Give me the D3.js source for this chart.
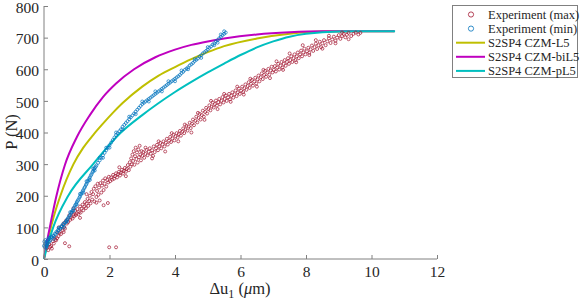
<!DOCTYPE html>
<html><head><meta charset="utf-8">
<script src="https://cdn.jsdelivr.net/npm/d3@7"></script>
<style>body{margin:0;background:#fff}svg{display:block}text{font-family:"Liberation Serif","Times New Roman",Times,"DejaVu Serif",serif !important;fill:#262626}</style>
</head><body><svg id="c" width="581" height="304"></svg>
<script>
const xTicks=[0,2,4,6,8,10,12];
const yTicks=[0,100,200,300,400,500,600,700,800];
const legendLabels=["Experiment (max)","Experiment (min)","S2SP4 CZM-L5","S2SP4 CZM-biL5","S2SP4 CZM-pL5"];
const expMax=[[0.1,36],[0.13,28],[0.16,47],[0.19,38],[0.22,41],[0.24,33],[0.27,56],[0.3,49],[0.32,68],[0.35,61],[0.37,59],[0.4,66],[0.42,84],[0.44,72],[0.47,82],[0.5,95],[0.52,79],[0.55,104],[0.57,90],[0.6,113],[0.62,101],[0.64,96],[0.67,121],[0.7,112],[0.72,125],[0.74,117],[0.77,138],[0.8,124],[0.82,131],[0.85,146],[0.87,128],[0.9,140],[0.92,135],[0.95,152],[0.97,139],[1.0,144],
[1.02,158],[1.05,141],[1.08,150],[1.1,166],[1.12,147],[1.15,159],[1.18,172],[1.2,154],[1.23,166],[1.25,180],[1.28,161],[1.3,175],[1.33,190],[1.35,168],[1.38,183],[1.4,200],[1.42,176],[1.45,212],[1.47,188],[1.5,205],[1.52,222],[1.54,182],[1.57,230],[1.6,196],[1.62,215],[1.64,238],[1.66,203],[1.68,226],[1.7,185],[1.72,240],[1.75,210],[1.77,232],[1.8,248],[1.82,218],[1.85,238],[1.87,255],[1.9,229],[1.93,250],[1.96,242],[1.98,260],
[1.95,177],[1.82,170],[0.64,50],[0.77,40],[1.99,37],[2.2,37],[3.33,326],
[2.02,246],[2.05,258],[2.08,251],[2.11,266],[2.14,254],[2.17,262],[2.2,271],[2.23,258],[2.26,268],[2.29,276],[2.32,264],[2.35,273],[2.38,282],[2.41,270],[2.44,279],[2.47,288],[2.5,276],[2.53,285],[2.56,297],[2.59,281],[2.62,306],[2.64,292],[2.66,318],[2.68,299],[2.7,330],[2.72,310],[2.74,341],[2.76,298],[2.78,325],[2.8,352],[2.82,316],[2.84,337],[2.86,305],[2.88,346],[2.9,322],[2.92,358],[2.94,330],[2.96,312],[2.98,341],[3.0,326],
[3.03,338],[3.06,320],[3.1,332],[3.13,345],[3.16,328],[3.2,339],[3.23,350],[3.26,333],[3.3,344],[3.35,356],[3.38,338],[3.42,350],[3.45,361],[3.48,344],[3.52,356],[3.55,367],[3.58,350],[3.62,362],[3.65,372],[3.68,356],[3.72,368],[3.75,380],[3.78,362],[3.82,374],[3.85,386],[3.88,370],[3.92,381],[3.95,393],[3.98,375],
[4.02,388],[4.05,398],[4.08,384],[4.12,395],[4.15,405],[4.18,390],[4.22,402],[4.25,413],[4.28,398],[4.32,410],[4.35,421],[4.38,406],[4.42,419],[4.45,431],[4.48,414],[4.52,428],[4.55,441],[4.58,423],[4.62,437],[4.65,450],[4.68,432],[4.72,446],[4.75,459],[4.78,441],[4.82,455],[4.85,469],[4.88,450],[4.92,465],[4.95,478],[4.98,460],
[5.02,474],[5.05,486],[5.08,470],[5.12,482],[5.15,495],[5.18,479],[5.22,490],[5.25,501],[5.28,485],[5.32,496],[5.35,506],[5.38,489],[5.42,500],[5.45,512],[5.48,495],[5.52,506],[5.55,517],[5.58,500],[5.62,511],[5.65,522],[5.68,505],[5.72,516],[5.75,527],[5.78,510],[5.82,521],[5.85,533],[5.88,515],[5.92,527],[5.95,539],[5.98,522],
[6.02,532],[6.05,545],[6.08,528],[6.12,540],[6.15,552],[6.18,535],[6.22,547],[6.25,559],[6.28,541],[6.32,554],[6.35,566],[6.38,548],[6.42,561],[6.45,573],[6.48,555],[6.52,568],[6.55,580],[6.58,562],[6.62,575],[6.65,587],[6.68,569],[6.72,582],[6.75,595],[6.78,576],[6.82,589],[6.85,601],[6.88,583],[6.92,596],[6.95,608],[6.98,590],
[7.02,598],[7.05,610],[7.08,593],[7.12,605],[7.15,617],[7.18,599],[7.22,611],[7.25,623],[7.28,605],[7.32,617],[7.35,629],[7.38,611],[7.42,623],[7.45,635],[7.48,617],[7.52,629],[7.55,641],[7.58,623],[7.62,635],[7.65,647],[7.68,629],[7.72,641],[7.75,653],[7.78,635],[7.82,647],[7.85,659],[7.88,641],[7.92,653],[7.95,665],[7.98,647],
[8.03,657],[8.07,668],[8.1,652],[8.14,663],[8.18,675],[8.22,658],[8.26,670],[8.3,681],[8.34,664],[8.38,676],[8.42,687],[8.46,670],[8.5,682],[8.55,692],[8.6,676],[8.65,688],[8.7,698],[8.75,683],[8.8,694],[8.85,703],[8.9,690],[8.95,700],[9.0,708],[9.05,696],[9.1,705],[9.15,712],[9.2,701],[9.25,709],[9.3,715],[9.38,705],[9.45,712],[9.52,716],[9.6,710],[9.66,715],
[3.1,352],[3.3,318],[3.5,372],[3.7,340],[3.9,398],[4.1,372],[4.3,425],[4.5,400],[4.7,462],[4.9,440],[5.1,500],[5.3,474],[5.5,522],[5.7,497],[5.9,545],[6.1,520],[6.3,570],[6.5,545],[6.7,598],[6.9,572],[7.1,625],[7.3,598],[7.5,650],[7.7,622],[7.9,676],[8.1,645],[8.3,692],[8.5,665],[8.7,706],[8.9,682],[9.1,716],[9.3,695],[2.3,290],[2.5,262],[1.3,205],[1.6,178],[1.1,130],[0.9,160],[0.6,85],[0.45,100]];
const expMin=[[0.0,42],[0.01,55],[0.02,38],[0.03,48],[0.04,60],[0.05,45],[0.06,52],[0.08,40],[0.1,58],[0.12,50],[0.14,62],[0.16,55],[0.18,66],[0.2,60],[0.22,70],[0.25,68],[0.28,74],[0.3,72],[0.33,80],[0.35,78],[0.38,86],[0.4,84],[0.43,92],[0.45,90],[0.48,98],[0.5,96],[0.53,104],[0.55,102],[0.58,110],[0.6,108],[0.63,114],[0.65,116],[0.68,120],[0.7,124],[0.73,128],[0.75,132],[0.78,136],[0.8,140],[0.83,146],[0.85,150],[0.88,154],[0.9,160],[0.93,164],[0.95,170],[0.98,174],[1.0,180],[1.03,184],[1.05,188],[1.08,194],[1.1,198],[1.13,204],[1.15,208],[1.18,214],[1.2,218],[1.23,224],[1.25,228],[1.28,234],[1.3,238],[1.33,244],[1.35,248],[1.38,254],[1.4,258],[1.43,264],[1.45,268],[1.48,274],[1.5,278],[1.53,284],[1.55,288],[1.58,292],[1.6,296],[1.65,304],[1.7,312],[1.75,320],[1.8,328],[1.85,336],[1.9,344],[1.95,352],[2.0,360],[2.05,368],[2.1,376],[2.15,384],[2.2,392],[2.25,398],[2.3,404],[2.35,410],[2.4,418],[2.45,424],[2.5,430],[2.55,436],[2.6,442],[2.65,448],[2.7,454],[2.75,460],[2.8,466],[2.85,472],[2.9,478],[2.95,484],[3.0,490],[3.05,494],[3.1,498],[3.15,502],[3.2,506],[3.25,510],[3.3,514],[3.35,518],[3.4,522],[3.45,526],[3.5,530],[3.55,534],[3.6,538],[3.65,542],[3.7,546],[3.75,550],[3.8,554],[3.85,558],[3.9,562],[3.95,566],[4.0,570],[4.05,574],[4.1,578],[4.15,582],[4.2,588],[4.25,592],[4.3,598],[4.35,602],[4.4,606],[4.45,612],[4.5,616],[4.55,620],[4.6,626],[4.65,630],[4.7,634],[4.75,640],[4.8,644],[4.85,650],[4.9,654],[4.95,658],[5.0,662],[5.05,668],[5.1,672],[5.15,678],[5.2,682],[5.25,688],[5.3,692],[5.35,698],[5.4,702],[5.45,708],[5.5,712],[5.55,716],
[0.05,35],[0.1,45],[0.15,68],[0.3,64],[0.45,98],[0.6,100],[0.7,118],[0.8,148],[0.9,152],[1.0,172],[1.1,206],[1.2,210],[1.3,246],[1.4,250],[1.5,286],[1.55,280],[1.7,320],[1.8,320],[1.9,352],[2.0,352],[2.2,400],[2.4,410],[2.6,450],[2.8,458],[3.0,498],[3.2,498],[3.4,530],[3.6,530],[3.8,562],[4.0,562],[4.2,596],[4.4,600],[4.6,632],[4.8,636],[5.0,670],[5.2,676],[5.4,710],[5.5,720],[5.3,684]];
const czmL5=[[0,0],[0.05,30],[0.15,75],[0.3,135],[0.5,200],[0.9,300],[1.2,352],[1.5,392],[1.8,428],[2.1,462],[2.4,493],[3.0,545],[3.5,580],[4.0,607],[4.5,632],[5.0,654],[5.5,673],[6.5,697],[7.5,712],[8.5,719],[9.5,720],[10.7,720]];
const czmBiL5=[[0,0],[0.1,60],[0.2,112],[0.37,195],[0.64,298],[1.0,385],[1.4,455],[1.8,512],[2.2,555],[2.75,600],[3.4,638],[4.0,662],[4.5,677],[5.0,688],[5.5,697],[6.5,710],[7.5,717],[8.5,720],[9.5,720],[10.7,720]];
const czmPL5=[[0,0],[0.1,40],[0.28,100],[0.74,200],[1.5,300],[2.35,400],[3.0,455],[3.46,490],[4.0,528],[4.5,560],[5.0,590],[5.5,618],[6.0,645],[6.5,669],[7.0,688],[7.5,703],[8.0,712],[8.5,717],[9.5,720],[10.72,720]];

const svg=d3.select("#c");
const m={l:44,r:437,t:6,b:259};
const x=d3.scaleLinear().domain([0,12]).range([m.l,m.r]);
const y=d3.scaleLinear().domain([0,800]).range([m.b,m.t]);
const colMax="#A2142F",colMin="#0072BD",colL5="#BFBF00",colBi="#BF00BF",colP="#00BFBF";
const FONT="'Liberation Serif','Times New Roman',Times,'DejaVu Serif',serif";

const line=d3.line().x(d=>x(d[0])).y(d=>y(d[1])).curve(d3.curveMonotoneX);
[[czmL5,colL5],[czmBiL5,colBi],[czmPL5,colP]].forEach(([d,c])=>{
  svg.append("path").attr("d",line(d)).attr("fill","none").attr("stroke",c).attr("stroke-width",2);
});
function scatter(data,c){
  svg.append("g").selectAll("circle").data(data).join("circle")
    .attr("cx",d=>x(d[0])).attr("cy",d=>y(d[1])).attr("r",1.5)
    .attr("fill","none").attr("stroke",c).attr("stroke-width",0.7);
}
scatter(expMax,colMax);
scatter(expMin,colMin);

const ax=svg.append("g").attr("transform",`translate(0,${m.b})`)
  .call(d3.axisBottom(x).tickValues(xTicks).tickSize(-4).tickPadding(7).tickFormat(d3.format("d")));
const ay=svg.append("g").attr("transform",`translate(${m.l},0)`)
  .call(d3.axisLeft(y).tickValues(yTicks).tickSize(-4).tickPadding(5).tickFormat(d3.format("d")));
[ax,ay].forEach(a=>{
  a.attr("font-family",FONT).attr("font-size",15.5);
  a.selectAll("path").attr("stroke","#808080").attr("stroke-width",1);
  a.selectAll("line").attr("stroke","#808080");
  a.selectAll("text").style("font-size","15.5px").style("font-family",FONT).attr("fill","#262626");
});
ay.selectAll("text").attr("dy","0.4em");
ax.select(".domain").attr("d",`M${m.l},0H${m.r}`);
ay.select(".domain").attr("d",`M0,${m.t}V${m.b}`);

const xl=svg.append("text").attr("x",240).attr("y",294).attr("text-anchor","middle").style("font-size","16.5px").style("font-family",FONT);
xl.append("tspan").text("Δu");
xl.append("tspan").text("1").attr("dy",4).style("font-size","12px");
xl.append("tspan").text(" (").attr("dy",-4);
xl.append("tspan").text("μ").style("font-style","italic");
xl.append("tspan").text("m)");
svg.append("text").attr("transform","translate(17,132) rotate(-90)").attr("text-anchor","middle").style("font-size","16.5px").style("font-family",FONT).text("P (N)");

const lg=svg.append("g");
lg.append("rect").attr("x",452.5).attr("y",5.5).attr("width",125).attr("height",72).attr("fill","#fff").attr("stroke","#808080").attr("stroke-width",1);
const cols=[colMax,colMin,colL5,colBi,colP];
legendLabels.forEach((t,i)=>{
  const yy=14.5+i*14.1;
  if(i<2){lg.append("circle").attr("cx",471).attr("cy",yy).attr("r",2.6).attr("fill","none").attr("stroke",cols[i]).attr("stroke-width",0.8);}
  else{lg.append("line").attr("x1",456).attr("x2",485).attr("y1",yy).attr("y2",yy).attr("stroke",cols[i]).attr("stroke-width",2);}
  lg.append("text").attr("x",488).attr("y",yy+4).style("font-size","12.5px").style("font-family",FONT).text(t);
});
</script></body></html>
